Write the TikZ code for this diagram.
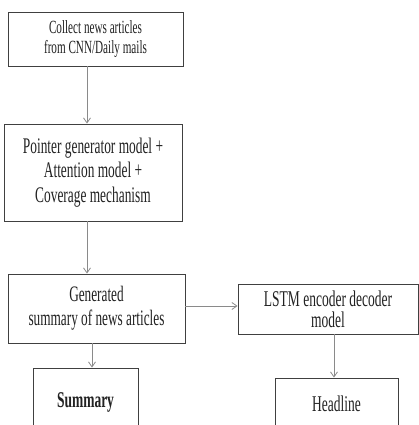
\documentclass[tikz,border=0pt]{standalone}
\usepackage{fontspec}
\setmainfont{Liberation Serif}[FakeStretch=0.6]
\usetikzlibrary{arrows.meta}
\definecolor{boxline}{HTML}{404040}
\definecolor{arrline}{HTML}{8A8A8A}
\definecolor{txt}{HTML}{222222}
\begin{document}
\begin{tikzpicture}[x=1pt,y=-1pt,
  box/.style={draw=boxline,line width=0.9pt,fill=white,align=center,inner sep=0pt,text=txt},
  arr/.style={draw=arrline,line width=0.8pt,-{Straight Barb[length=5pt,width=7pt]}}]
\useasboundingbox (0,0) rectangle (419,425);
\clip (0,0) rectangle (419,425);
\node[box,minimum width=175pt,minimum height=54pt,font=\fontsize{18.6}{20}\selectfont] (b1) at (95.5,39)
  {Collect news articles\\from CNN/Daily mails};
\node[box,minimum width=178pt,minimum height=97pt,font=\fontsize{22.3}{24.5}\selectfont] (b2) at (93,172.5)
  {Pointer generator model +\\Attention model +\\Coverage mechanism};
\node[box,minimum width=177pt,minimum height=69pt,font=\fontsize{22.1}{24}\selectfont] (b3) at (96.5,308.5)
  {Generated\\summary of news articles};
\node[box,minimum width=180pt,minimum height=50pt,font=\fontsize{22.5}{21}\selectfont] (b4) at (328,309)
  {LSTM encoder decoder\\model};
\node[box,minimum width=105pt,minimum height=68pt,font=\fontsize{22.5}{21}\selectfont\bfseries] (b5) at (85.5,402)
  {Summary};
\node[box,minimum width=123pt,minimum height=52pt,font=\fontsize{22.5}{21}\selectfont] (b6) at (336.5,404)
  {Headline};
\coordinate (xa) at (87,0);
\coordinate (xb) at (92,0);
\coordinate (xc) at (334,0);
\coordinate (ya) at (0,306);
\draw[arr] (b1.south -| xa) -- (b2.north -| xa);
\draw[arr] (b2.south -| xa) -- (b3.north -| xa);
\draw[arr] (b3.east |- ya) -- (b4.west |- ya);
\draw[arr] (b3.south -| xb) -- (b5.north -| xb);
\draw[arr] (b4.south -| xc) -- (b6.north -| xc);
\end{tikzpicture}
\end{document}
